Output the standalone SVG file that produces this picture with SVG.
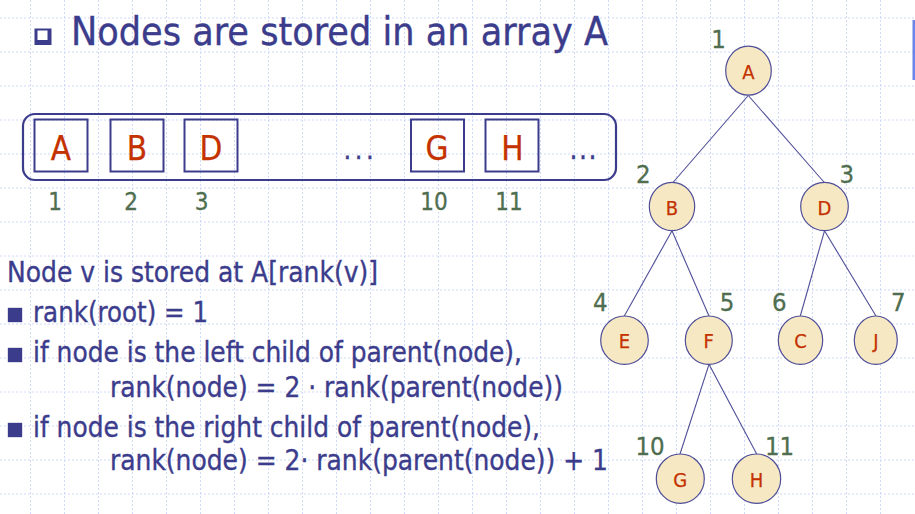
<svg xmlns="http://www.w3.org/2000/svg" width="915" height="514" viewBox="0 0 915 514">
  <style>
    .grid { fill: none; stroke: #cfd9f8; stroke-width: 1; stroke-dasharray: 2 2; }
    .txt { font-family: "DejaVu Sans Condensed", "DejaVu Sans", "Liberation Sans", sans-serif; font-stretch: condensed; }
    .blue { fill: #3c3c8c; stroke: #3c3c8c; stroke-width: 0.35; }
    .red { fill: #c43200; stroke: #c43200; stroke-width: 0.25; }
    .green { fill: #4f6e4f; stroke: #4f6e4f; stroke-width: 0.3; }
    .frame { fill: none; stroke: #3c3c8c; stroke-width: 2.2; }
    .cell { fill: none; stroke: #3c3c8c; stroke-width: 2; }
    .cellval { font-size: 33px; text-anchor: middle; }
    .idx { font-size: 24px; text-anchor: middle; }
    .rank { font-size: 25.5px; text-anchor: middle; }
    .node ellipse { fill: #f6e8c3; stroke: #4e4e98; stroke-width: 1.2; }
    .node text { font-size: 20px; text-anchor: middle; }
    .edges line { stroke: #4e4e98; stroke-width: 1.1; }
    .body { font-size: 28.5px; }
  </style>

  <!-- background and dotted grid -->
  <rect width="915" height="514" fill="#ffffff"/>
  <path class="grid" d="M30.5 0V514M64.5 0V514M98.5 0V514M132.5 0V514M166.5 0V514M200.5 0V514M234.5 0V514M268.5 0V514M302.5 0V514M336.5 0V514M370.5 0V514M404.5 0V514M438.5 0V514M472.5 0V514M506.5 0V514M540.5 0V514M574.5 0V514M608.5 0V514M642.5 0V514M676.5 0V514M710.5 0V514M744.5 0V514M778.5 0V514M812.5 0V514M846.5 0V514M880.5 0V514M0 18H915M0 52H915M0 86H915M0 120H915M0 154H915M0 188H915M0 222H915M0 256H915M0 290H915M0 324H915M0 358H915M0 392H915M0 426H915M0 460H915M0 494H915"/>
  <rect x="912.5" y="20" width="2.5" height="60" fill="#6a86e6"/>

  <!-- title with hollow square bullet -->
  <g id="title">
    <rect x="34.5" y="28.5" width="17" height="16.5" fill="#3c3c8c"/>
    <rect x="37.5" y="30.5" width="10" height="9.5" fill="#ffffff"/>
    <text class="txt blue" x="71" y="45" font-size="38.5" textLength="537" lengthAdjust="spacingAndGlyphs">Nodes are stored in an array A</text>
  </g>

  <!-- array A -->
  <g id="array">
    <rect class="frame" x="23" y="114" width="593" height="66" rx="12"/>
    <rect class="cell" x="34.5" y="119.5" width="53" height="52"/>
    <rect class="cell" x="110.5" y="119.5" width="53" height="52"/>
    <rect class="cell" x="184.5" y="119.5" width="53" height="52"/>
    <rect class="cell" x="411" y="119.5" width="53" height="52"/>
    <rect class="cell" x="485.5" y="119.5" width="53" height="52"/>
    <text class="txt red cellval" x="61" y="159.5">A</text>
    <text class="txt red cellval" x="137" y="159.5">B</text>
    <text class="txt red cellval" x="211" y="159.5">D</text>
    <text class="txt red cellval" x="437" y="159.5">G</text>
    <text class="txt red cellval" x="512.5" y="159.5">H</text>
    <text class="txt blue" x="343.5" y="159" font-size="27" letter-spacing="3.5">...</text>
    <text class="txt blue" x="569.5" y="159" font-size="28" letter-spacing="1.5">...</text>
    <text class="txt green idx" x="55" y="210">1</text>
    <text class="txt green idx" x="131" y="210">2</text>
    <text class="txt green idx" x="201.5" y="210">3</text>
    <text class="txt green idx" x="434" y="210">10</text>
    <text class="txt green idx" x="509" y="210">11</text>
  </g>

  <!-- rules -->
  <g id="rules" class="txt blue body">
    <text x="7" y="281.7" textLength="371" lengthAdjust="spacingAndGlyphs">Node v is stored at A[rank(v)]</text>
    <rect x="8" y="308" width="14" height="14"/>
    <text x="33" y="321.7" textLength="175" lengthAdjust="spacingAndGlyphs">rank(root) = 1</text>
    <rect x="8" y="348" width="14" height="14"/>
    <text x="33" y="361.7" textLength="489" lengthAdjust="spacingAndGlyphs">if node is the left child of parent(node),</text>
    <text x="110" y="396.7" textLength="453" lengthAdjust="spacingAndGlyphs">rank(node) = 2 · rank(parent(node))</text>
    <rect x="8" y="423" width="14" height="14"/>
    <text x="33" y="436.7" textLength="507" lengthAdjust="spacingAndGlyphs">if node is the right child of parent(node),</text>
    <text x="110" y="470" textLength="498" lengthAdjust="spacingAndGlyphs">rank(node) = 2·  rank(parent(node)) + 1</text>
  </g>

  <!-- tree connectors -->
  <g id="edges" class="edges">
    <line x1="748.3" y1="95.5" x2="673" y2="182.5"/>
    <line x1="748.3" y1="95.5" x2="824.3" y2="182.5"/>
    <line x1="672" y1="230.8" x2="624.3" y2="316"/>
    <line x1="672" y1="230.8" x2="709" y2="316"/>
    <line x1="824.5" y1="230.8" x2="800.3" y2="316"/>
    <line x1="824.5" y1="230.8" x2="876" y2="316"/>
    <line x1="709" y1="364.3" x2="680" y2="454"/>
    <line x1="709" y1="364.3" x2="756.7" y2="454"/>
  </g>

  <!-- tree nodes -->
  <g id="node-A" class="node">
    <ellipse cx="748.5" cy="70.7" rx="22.8" ry="24.5"/>
    <text class="txt red" x="748.5" y="79.3">A</text>
  </g>
  <g id="node-B" class="node">
    <ellipse cx="672" cy="206.5" rx="22.7" ry="24.2"/>
    <text class="txt red" x="672" y="214.8">B</text>
  </g>
  <g id="node-D" class="node">
    <ellipse cx="824.5" cy="206.5" rx="23.8" ry="24.2"/>
    <text class="txt red" x="824.5" y="214.8">D</text>
  </g>
  <g id="node-E" class="node">
    <ellipse cx="624.5" cy="340.2" rx="23.8" ry="24.2"/>
    <text class="txt red" x="624.5" y="348.3">E</text>
  </g>
  <g id="node-F" class="node">
    <ellipse cx="708.8" cy="340.2" rx="23.5" ry="24.2"/>
    <text class="txt red" x="708.8" y="348.3">F</text>
  </g>
  <g id="node-C" class="node">
    <ellipse cx="800.5" cy="340.2" rx="22.2" ry="24.2"/>
    <text class="txt red" x="800.5" y="348.3">C</text>
  </g>
  <g id="node-J" class="node">
    <ellipse cx="875.8" cy="340.2" rx="21.5" ry="24.2"/>
    <text class="txt red" x="875.8" y="348.3">J</text>
  </g>
  <g id="node-G" class="node">
    <ellipse cx="680.3" cy="478.7" rx="24" ry="24.7"/>
    <text class="txt red" x="680.3" y="486.7">G</text>
  </g>
  <g id="node-H" class="node">
    <ellipse cx="756.5" cy="478.7" rx="24.2" ry="24.7"/>
    <text class="txt red" x="756.5" y="486.7">H</text>
  </g>

  <!-- rank numbers beside the tree nodes -->
  <g id="ranks" class="txt green rank">
    <text x="718.5" y="48.3">1</text>
    <text x="643.3" y="183.3">2</text>
    <text x="846.7" y="183.3">3</text>
    <text x="600.3" y="310.7">4</text>
    <text x="727" y="310.7">5</text>
    <text x="779.3" y="310.7">6</text>
    <text x="898.3" y="310.7">7</text>
    <text x="650" y="455">10</text>
    <text x="779.5" y="455">11</text>
  </g>
</svg>
